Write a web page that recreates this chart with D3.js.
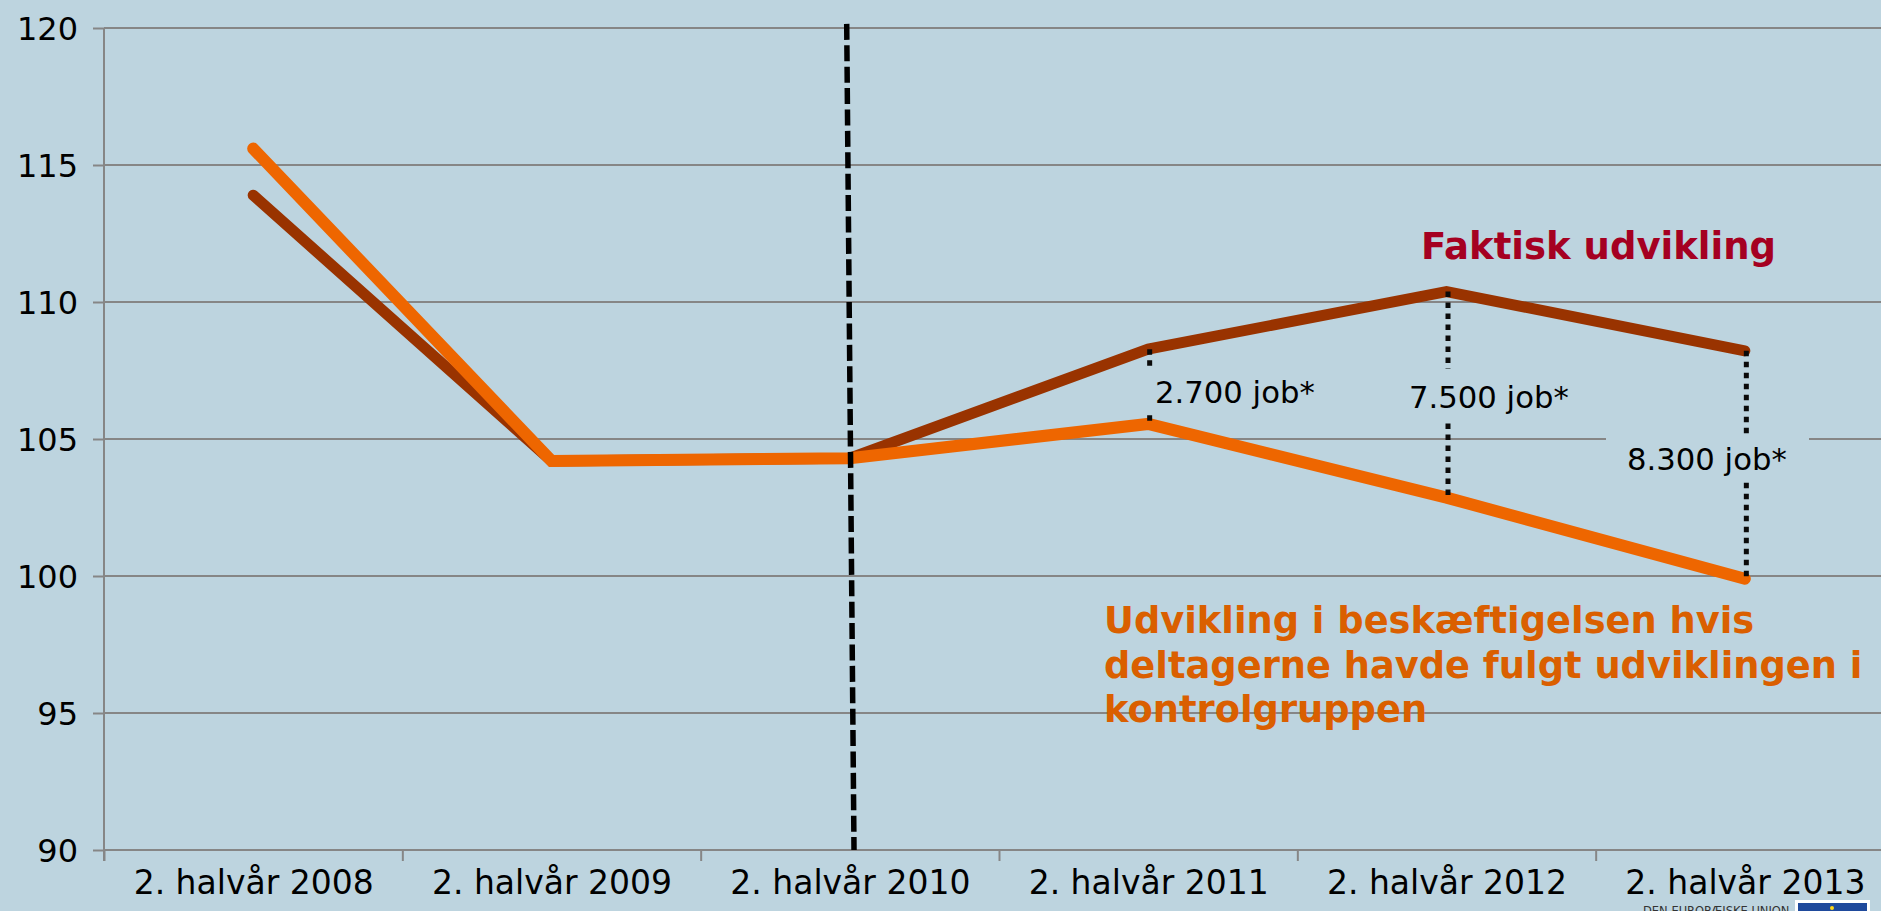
<!DOCTYPE html>
<html>
<head>
<meta charset="utf-8">
<script src="https://cdn.jsdelivr.net/npm/d3@7"></script>
<style>
  html, body { margin: 0; padding: 0; background: #bdd4df; overflow: hidden; }
  svg { display: block; }
  text { font-family: "DejaVu Sans", sans-serif; }
</style>
</head>
<body>
<div id="chart"></div>
<script>
var w = 1881;
var h = 911;

var categories = ["2. halvår 2008", "2. halvår 2009", "2. halvår 2010", "2. halvår 2011", "2. halvår 2012", "2. halvår 2013"];
var faktisk = [113.9, 104.2, 104.3, 108.28, 110.38, 108.22];
var kontrol = [115.6, 104.2, 104.3, 105.55, 102.86, 99.9];
var yTicks = [90, 95, 100, 105, 110, 115, 120];
var gapCategories = [3, 4, 5];
var gapLabels = ["2.700 job*", "7.500 job*", "8.300 job*"];
var kontrolLines = ["Udvikling i beskæftigelsen hvis", "deltagerne havde fulgt udviklingen i", "kontrolgruppen"];

var svg = d3
  .select("#chart")
  .append("svg")
  .attr("width", w)
  .attr("height", h);

svg.append("rect").attr("width", w).attr("height", h).attr("fill", "#bdd4df");

var xScale = d3.scaleLinear().domain([0, 6]).range([104, 1894]);
var yScale = d3.scaleLinear().domain([90, 120]).range([850, 28]);

function center(i) {
  return xScale(i + 0.5);
}

var gridColor = "#868686";

// y axis + gridlines
var yAxis = svg
  .append("g")
  .attr("transform", "translate(104, 0)")
  .call(d3.axisLeft(yScale).tickValues(yTicks).tickSize(11).tickPadding(15));
yAxis.select(".domain").remove();
yAxis.selectAll("line").attr("stroke", gridColor).attr("stroke-width", 2);
yAxis
  .selectAll("text")
  .attr("fill", "#000")
  .style("font-size", "32px")
  .attr("dy", "0.36em");

svg
  .append("g")
  .selectAll("line")
  .data(yTicks)
  .enter()
  .append("line")
  .attr("x1", 104)
  .attr("x2", w)
  .attr("y1", function(d) { return yScale(d); })
  .attr("y2", function(d) { return yScale(d); })
  .attr("stroke", gridColor)
  .attr("stroke-width", 2);

svg
  .append("line")
  .attr("x1", 104)
  .attr("x2", 104)
  .attr("y1", yScale(120))
  .attr("y2", yScale(90) + 11)
  .attr("stroke", gridColor)
  .attr("stroke-width", 2);

// x axis: ticks between categories, labels in the middle
var xTickAxis = svg
  .append("g")
  .attr("transform", "translate(0, 850)")
  .call(d3.axisBottom(xScale).tickValues(d3.range(0, 7)).tickSize(11).tickFormat(""));
xTickAxis.select(".domain").remove();
xTickAxis.selectAll("line").attr("stroke", gridColor).attr("stroke-width", 2);

// logo sits under the last axis label
svg
  .append("text")
  .attr("x", 1643)
  .attr("y", 915)
  .attr("fill", "#333")
  .style("font-size", "11.5px")
  .text("DEN EUROPÆISKE UNION");
svg.append("rect").attr("x", 1795).attr("y", 900).attr("width", 75).attr("height", 12).attr("fill", "#fff");
svg.append("rect").attr("x", 1798).attr("y", 903).attr("width", 69).attr("height", 10).attr("fill", "#1f4a9c");
svg.append("circle").attr("cx", 1832).attr("cy", 908).attr("r", 2).attr("fill", "#ffd617");

var xLabelAxis = svg
  .append("g")
  .attr("transform", "translate(0, 850)")
  .call(
    d3.axisBottom(xScale)
      .tickValues(categories.map(function(d, i) { return i + 0.5; }))
      .tickSize(0)
      .tickPadding(21)
      .tickFormat(function(d) { return categories[d - 0.5]; })
  );
xLabelAxis.select(".domain").remove();
xLabelAxis.selectAll("text").attr("fill", "#000").style("font-size", "33px");

// the two lines
var line = d3
  .line()
  .x(function(d, i) { return center(i); })
  .y(function(d) { return yScale(d); });

svg
  .append("path")
  .attr("d", line(faktisk))
  .attr("fill", "none")
  .attr("stroke", "#993300")
  .attr("stroke-width", 11)
  .attr("stroke-linecap", "round")
  .attr("stroke-linejoin", "miter");

svg
  .append("path")
  .attr("d", line(kontrol))
  .attr("fill", "none")
  .attr("stroke", "#ee6600")
  .attr("stroke-width", 12)
  .attr("stroke-linecap", "round")
  .attr("stroke-linejoin", "miter");

// dotted gaps between the lines
svg
  .append("g")
  .selectAll("line")
  .data(gapCategories)
  .enter()
  .append("line")
  .attr("x1", function(d) { return center(d) + 1.5; })
  .attr("x2", function(d) { return center(d) + 1.5; })
  .attr("y1", function(d) { return yScale(faktisk[d]); })
  .attr("y2", function(d) { return yScale(kontrol[d]); })
  .attr("stroke", "#0a0a0a")
  .attr("stroke-width", 5)
  .attr("stroke-dasharray", "5.5 5.5");

// gap labels have a box in the background colour that cuts the dotted line
var boxes = [
  { x: 1140, y: 370, w: 180, h: 42 },
  { x: 1405, y: 369, w: 170, h: 49 },
  { x: 1606, y: 437, w: 203, h: 42 }
];
var labelPos = [
  { x: 1155, y: 403 },
  { x: 1409, y: 408 },
  { x: 1627, y: 470 }
];
gapLabels.forEach(function(d, i) {
  svg
    .append("rect")
    .attr("x", boxes[i].x)
    .attr("y", boxes[i].y)
    .attr("width", boxes[i].w)
    .attr("height", boxes[i].h)
    .attr("fill", "#bdd4df");
  svg
    .append("text")
    .attr("x", labelPos[i].x)
    .attr("y", labelPos[i].y)
    .attr("fill", "#000")
    .style("font-size", "30.7px")
    .text(d);
});

// dashed divider, it leans a little in the original
svg
  .append("line")
  .attr("x1", xScale(2.4895))
  .attr("y1", yScale(120.15))
  .attr("x2", xScale(2.514))
  .attr("y2", yScale(90))
  .attr("stroke", "#000")
  .attr("stroke-width", 5.5)
  .attr("stroke-dasharray", "16 5.4");

// text on the lines
svg
  .append("text")
  .attr("x", 1421)
  .attr("y", 259)
  .attr("fill", "#a50021")
  .style("font-size", "37px")
  .style("font-weight", "bold")
  .text("Faktisk udvikling");

svg
  .append("g")
  .selectAll("text")
  .data(kontrolLines)
  .enter()
  .append("text")
  .attr("x", 1104)
  .attr("y", function(d, i) { return 633 + i * 44.5; })
  .attr("fill", "#da5f00")
  .style("font-size", "36.8px")
  .style("font-weight", "bold")
  .text(function(d) { return d; });
</script>
</body>
</html>
